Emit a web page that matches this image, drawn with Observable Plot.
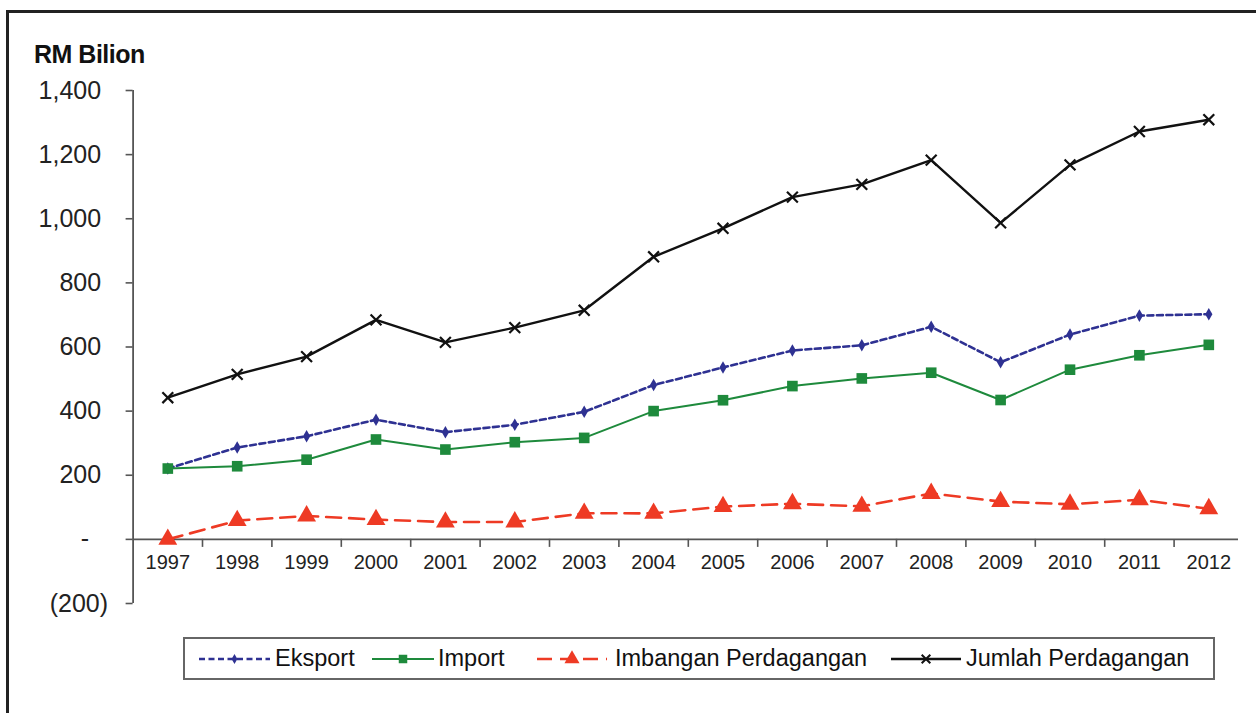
<!DOCTYPE html>
<html>
<head>
<meta charset="utf-8">
<script src="https://cdn.jsdelivr.net/npm/d3@7"></script>
<script src="https://cdn.jsdelivr.net/npm/@observablehq/plot@0.6"></script>
<style>
  html, body { margin: 0; padding: 0; background: #fff; }
  #wrap { position: relative; width: 1256px; height: 713px; overflow: hidden; font-family: "Liberation Sans", Arial, sans-serif; }
  #frame { position: absolute; left: 6px; top: 10px; width: 1400px; height: 900px; border-top: 3px solid #222; border-left: 3px solid #222; }
  #title { position: absolute; left: 34px; top: 40px; font-size: 25px; font-weight: bold; color: #111; letter-spacing: -0.5px; }
  #chart { position: absolute; left: 0; top: 0; }
  #legend { position: absolute; left: 183px; top: 637px; width: 1028px; height: 39px; border: 2px solid #666; background: #fff; }
  .li { position: absolute; top: 0; height: 39px; display: flex; align-items: center; font-size: 23.5px; color: #111; white-space: nowrap; }
  .li svg { display: block; }
</style>
</head>
<body>
<div id="wrap">
  <div id="frame"></div>
  <div id="chart"></div>
  <div id="title">RM Bilion</div>
  <div id="legend"></div>
</div>
<script>
const years = ["1997","1998","1999","2000","2001","2002","2003","2004","2005","2006","2007","2008","2009","2010","2011","2012"];
const eksport = [220.9, 286.6, 321.6, 373.3, 334.3, 357.4, 397.9, 481.3, 536.2, 589.2, 605.2, 663.0, 552.5, 638.8, 697.9, 702.2];
const importVals = [220.9, 228.1, 248.5, 311.5, 280.2, 303.1, 316.5, 400.1, 434.0, 478.1, 502.0, 519.8, 434.7, 529.2, 574.2, 606.7];
const imbangan = [0, 58.5, 73.1, 61.8, 54.1, 54.3, 81.4, 81.2, 102.2, 111.1, 103.1, 143.2, 117.8, 109.6, 123.7, 95.5];
const jumlah = [441.8, 514.7, 570.1, 684.7, 614.5, 660.5, 714.4, 881.3, 970.2, 1067.4, 1107.2, 1182.8, 987.2, 1168.0, 1272.1, 1308.9];
const yTicks = [-200, 0, 200, 400, 600, 800, 1000, 1200, 1400];

const seriesNames = ["Eksport", "Import", "Imbangan Perdagangan", "Jumlah Perdagangan"];
const seriesValues = [eksport, importVals, imbangan, jumlah];
const styles = {
  "Eksport": {stroke: "#2e3192", dash: "6,3.5", width: 2.6, symbol: "diamond", r: 3.8, fill: "#2e3192", markStroke: "none"},
  "Import": {stroke: "#1e8a3c", dash: null, width: 2, symbol: "square", r: 6, fill: "#1e8a3c", markStroke: "none"},
  "Imbangan Perdagangan": {stroke: "#ee3a24", dash: "15,8", width: 2.6, symbol: "triangle", r: 7, fill: "#ee3a24", markStroke: "none"},
  "Jumlah Perdagangan": {stroke: "#111", dash: null, width: 2.4, symbol: "times", r: 5, fill: "none", markStroke: "#111"}
};

const rows = seriesNames.map((name, i) => years.map((yr, j) => ({series: name, year: yr, value: seriesValues[i][j]})));

const W = 1256, H = 630;
const mL = 132.6, mR = 13, mT = 90, mB = 27;
const bw = (W - mL - mR) / years.length;

const fmt = d => d === 0 ? "-" : d < 0 ? `(${d3.format(",")(-d)})` : d3.format(",")(d);

const marks = [
  Plot.ruleX([years[0]], {y1: -200, y2: 1400, dx: -bw / 2, stroke: "#555", strokeWidth: 1.8}),
  Plot.axisY({ticks: yTicks, tickSize: 7, tickFormat: () => "", label: null, stroke: "#555", strokeWidth: 1.6}),
  Plot.text(yTicks.filter(d => d > 0), {y: d => d, text: fmt, frameAnchor: "left", textAnchor: "end", dx: -32, fontSize: 25, fill: "#222"}),
  Plot.text(yTicks.filter(d => d === 0), {y: d => d, text: fmt, frameAnchor: "left", textAnchor: "end", dx: -44, fontSize: 25, fill: "#222"}),
  Plot.text(yTicks.filter(d => d < 0), {y: d => d, text: fmt, frameAnchor: "left", textAnchor: "end", dx: -25, fontSize: 25, fill: "#222"}),
  Plot.ruleY([0], {stroke: "#555", strokeWidth: 1.8, insetRight: 5}),
  Plot.ruleX(years.slice(1), {y1: 0, y2: -25, dx: -bw / 2, stroke: "#555", strokeWidth: 1.6}),
  Plot.text(years, {x: d => d, y: () => 0, text: d => d, dy: 23, fontSize: 20, fill: "#222"})
];

for (const name of seriesNames) {
  const s = styles[name];
  const data = rows[seriesNames.indexOf(name)];
  marks.push(Plot.line(data, {x: "year", y: "value", stroke: s.stroke, strokeWidth: s.width, strokeDasharray: s.dash || undefined}));
  marks.push(Plot.dot(data, {x: "year", y: "value", symbol: () => s.symbol, r: s.r, fill: s.fill, stroke: s.markStroke, strokeWidth: 2.2}));
}

const chart = Plot.plot({
  width: W, height: H,
  marginLeft: mL, marginRight: mR, marginTop: mT, marginBottom: mB,
  style: {fontFamily: "'Liberation Sans', Arial, sans-serif", background: "transparent"},
  x: {type: "band", domain: years, padding: 0, round: false, axis: null},
  y: {domain: [-200, 1400], axis: null},
  symbol: {type: "identity"},
  marks
});
document.getElementById("chart").appendChild(chart);

const legendItems = [
  {name: "Eksport", sx: 14, sw: 71, tx: 90},
  {name: "Import", sx: 187, sw: 62, tx: 253},
  {name: "Imbangan Perdagangan", sx: 352, sw: 70, tx: 430},
  {name: "Jumlah Perdagangan", sx: 706, sw: 70, tx: 781}
];
const legend = document.getElementById("legend");
const symMap = {diamond: d3.symbolDiamond, square: d3.symbolSquare, triangle: d3.symbolTriangle, times: d3.symbolTimes};
for (const it of legendItems) {
  const s = styles[it.name];
  const sw = document.createElement("div");
  sw.className = "li";
  sw.style.left = it.sx + "px";
  const svg = d3.create("svg").attr("width", it.sw).attr("height", 39);
  svg.append("line").attr("x1", 0).attr("x2", it.sw).attr("y1", 20).attr("y2", 20)
    .attr("stroke", s.stroke).attr("stroke-width", s.width).attr("stroke-dasharray", s.dash);
  const scale = it.name === "Imbangan Perdagangan" ? 0.8 : 0.8;
  svg.append("path").attr("transform", `translate(${it.sw / 2},20)`)
    .attr("d", d3.symbol(symMap[s.symbol], Math.PI * (s.r * scale) ** 2)())
    .attr("fill", s.fill).attr("stroke", s.markStroke).attr("stroke-width", 2);
  sw.appendChild(svg.node());
  legend.appendChild(sw);
  const tx = document.createElement("div");
  tx.className = "li";
  tx.style.left = it.tx + "px";
  tx.textContent = it.name;
  legend.appendChild(tx);
}
</script>
</body>
</html>
